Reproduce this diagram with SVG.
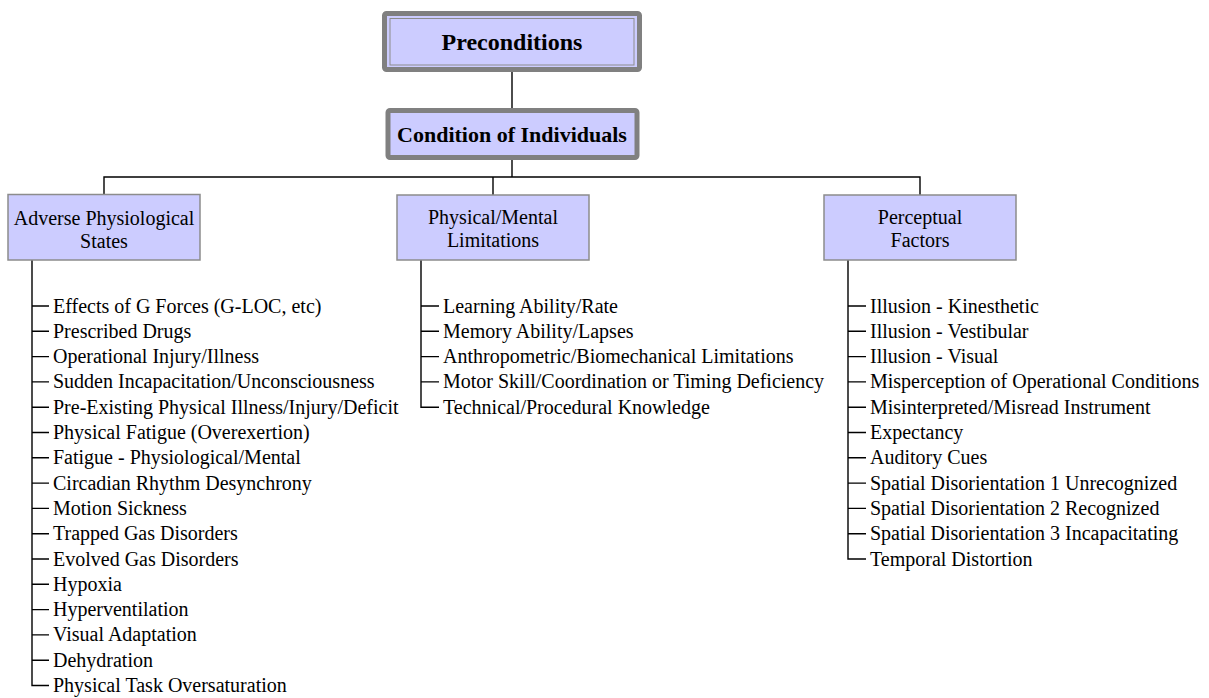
<svg xmlns="http://www.w3.org/2000/svg" width="1209" height="698" viewBox="0 0 1209 698">
<style>
.bg{fill:#ffffff}
.top{fill:#ccccff;stroke:#808080;stroke-width:5}
.inner{fill:none;stroke:#8c8c8c;stroke-width:1}
.box{fill:#ccccff;stroke:#8c8c8c;stroke-width:1.5}
.conn{stroke:#000;stroke-width:1.4;fill:none}
.t{font-family:"Liberation Serif","Times New Roman",serif;font-size:20px;fill:#000}
.h{font-family:"Liberation Serif","Times New Roman",serif;font-weight:bold;fill:#000;text-anchor:middle}
.c{text-anchor:middle}
</style>
<rect class="bg" x="0" y="0" width="1209" height="698"/>
<g id="connectors">
<line class="conn" x1="512" y1="72" x2="512" y2="108"/>
<line class="conn" x1="512" y1="160" x2="512" y2="177"/>
<polyline class="conn" points="104,194 104,177 920,177 920,195"/>
<line class="conn" x1="493" y1="177" x2="493" y2="195"/>
<path class="conn" d="M32,260 V685.5 H49 M32,306 H49 M32,331.3 H49 M32,356.6 H49 M32,381.9 H49 M32,407.2 H49 M32,432.5 H49 M32,457.8 H49 M32,483.1 H49 M32,508.4 H49 M32,533.7 H49 M32,559 H49 M32,584.3 H49 M32,609.6 H49 M32,634.9 H49 M32,660.2 H49"/>
<path class="conn" d="M421,260 V407.2 H439 M421,306 H439 M421,331.3 H439 M421,356.6 H439 M421,381.9 H439"/>
<path class="conn" d="M848,260 V559 H866 M848,306 H866 M848,331.3 H866 M848,356.6 H866 M848,381.9 H866 M848,407.2 H866 M848,432.5 H866 M848,457.8 H866 M848,483.1 H866 M848,508.4 H866 M848,533.7 H866"/>
</g>
<g id="preconditions">
<rect class="top" x="384.5" y="13.5" width="255" height="56" rx="2"/>
<rect class="inner" x="390" y="18.5" width="244" height="46.5"/>
<text class="h" x="512" y="50" font-size="24">Preconditions</text>
</g>
<g id="condition-of-individuals">
<rect class="top" x="388" y="110.5" width="249" height="47" rx="2"/>
<text class="h" x="512" y="142" font-size="22">Condition of Individuals</text>
</g>
<g id="adverse-physiological-states">
<rect class="box" x="8" y="194.5" width="192" height="65.5"/>
<text class="t c" x="104" y="225">Adverse Physiological</text>
<text class="t c" x="104" y="248">States</text>
</g>
<g id="physical-mental-limitations">
<rect class="box" x="397" y="195" width="192" height="65"/>
<text class="t c" x="493" y="224">Physical/Mental</text>
<text class="t c" x="493" y="247">Limitations</text>
</g>
<g id="perceptual-factors">
<rect class="box" x="824" y="195" width="192" height="65"/>
<text class="t c" x="920" y="224">Perceptual</text>
<text class="t c" x="920" y="247">Factors</text>
</g>
<g id="adverse-items">
<text class="t" x="53" y="312.5">Effects of G Forces (G-LOC, etc)</text>
<text class="t" x="53" y="337.8">Prescribed Drugs</text>
<text class="t" x="53" y="363.1">Operational Injury/Illness</text>
<text class="t" x="53" y="388.4">Sudden Incapacitation/Unconsciousness</text>
<text class="t" x="53" y="413.7">Pre-Existing Physical Illness/Injury/Deficit</text>
<text class="t" x="53" y="439">Physical Fatigue (Overexertion)</text>
<text class="t" x="53" y="464.3">Fatigue - Physiological/Mental</text>
<text class="t" x="53" y="489.6">Circadian Rhythm Desynchrony</text>
<text class="t" x="53" y="514.9">Motion Sickness</text>
<text class="t" x="53" y="540.2">Trapped Gas Disorders</text>
<text class="t" x="53" y="565.5">Evolved Gas Disorders</text>
<text class="t" x="53" y="590.8">Hypoxia</text>
<text class="t" x="53" y="616.1">Hyperventilation</text>
<text class="t" x="53" y="641.4">Visual Adaptation</text>
<text class="t" x="53" y="666.7">Dehydration</text>
<text class="t" x="53" y="692">Physical Task Oversaturation</text>
</g>
<g id="limitation-items">
<text class="t" x="443" y="312.5">Learning Ability/Rate</text>
<text class="t" x="443" y="337.8">Memory Ability/Lapses</text>
<text class="t" x="443" y="363.1">Anthropometric/Biomechanical Limitations</text>
<text class="t" x="443" y="388.4">Motor Skill/Coordination or Timing Deficiency</text>
<text class="t" x="443" y="413.7">Technical/Procedural Knowledge</text>
</g>
<g id="perceptual-items">
<text class="t" x="870" y="312.5">Illusion - Kinesthetic</text>
<text class="t" x="870" y="337.8">Illusion - Vestibular</text>
<text class="t" x="870" y="363.1">Illusion - Visual</text>
<text class="t" x="870" y="388.4">Misperception of Operational Conditions</text>
<text class="t" x="870" y="413.7">Misinterpreted/Misread Instrument</text>
<text class="t" x="870" y="439">Expectancy</text>
<text class="t" x="870" y="464.3">Auditory Cues</text>
<text class="t" x="870" y="489.6">Spatial Disorientation 1 Unrecognized</text>
<text class="t" x="870" y="514.9">Spatial Disorientation 2 Recognized</text>
<text class="t" x="870" y="540.2">Spatial Disorientation 3 Incapacitating</text>
<text class="t" x="870" y="565.5">Temporal Distortion</text>
</g>
</svg>
